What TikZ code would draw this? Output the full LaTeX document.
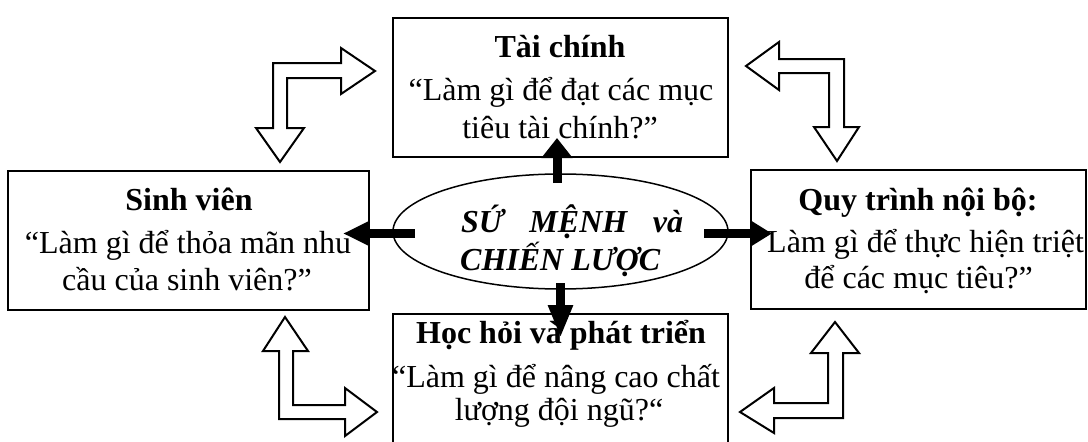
\documentclass[tikz,border=0pt]{standalone}
\usepackage{fontspec}
\setmainfont{Liberation Serif}
\usetikzlibrary{arrows.meta,shapes.geometric}
\begin{document}
\begin{tikzpicture}[x=1pt,y=-1pt,
  box/.style={draw, line width=2pt, inner sep=0pt},
  txt/.style={font=\fontsize{32}{37}\selectfont, inner sep=0pt, anchor=base},
  head/.style={font=\fontsize{32}{37}\selectfont\bfseries, inner sep=0pt, anchor=base},
  etxt/.style={font=\fontsize{32}{37}\selectfont\bfseries\itshape, inner sep=0pt, anchor=base west},
  blk/.style={line width=9pt},
  hollow/.style={draw, line width=2pt, fill=white, line join=miter}]
\useasboundingbox (0,0) rectangle (1088,442);

% boxes
\node[box, minimum width=335pt, minimum height=139pt] (fin) at (560.5,87.5) {};
\node[box, minimum width=361pt, minimum height=139pt] (stu) at (188.5,240.5) {};
\node[box, minimum width=335pt, minimum height=139pt] (pro) at (918.5,239.5) {};
\node[box, minimum width=335pt, minimum height=146pt] (lrn) at (560.5,387) {};
\node[draw, ellipse, line width=1.5pt, inner sep=0pt, minimum width=335pt, minimum height=115pt] (mis) at (560.5,231.5) {};

% texts
\node[head] (finH) at (560,57) {Tài chính};
\node[txt] (fin1) at (561,100) {“Làm gì để đạt các mục};
\node[txt] (fin2) at (560,138) {tiêu tài chính?”};

\node[head] (stuH) at (189,210) {Sinh viên};
\node[txt] (stu1) at (188,253) {“Làm gì để thỏa mãn nhu};
\node[txt] (stu2) at (187,290) {cầu của sinh viên?”};

\node[head] (proH) at (918,210) {Quy trình nội bộ:};
\node[txt, anchor=base west] (pro1) at (767,252) {Làm gì để thực hiện triệt};
\node[txt] (pro2) at (918.5,288) {để các mục tiêu?”};

\node[head] (lrnH) at (561,343) {Học hỏi và phát triển};
\node[txt] (lrn1) at (556,387) {“Làm gì để nâng cao chất};
\node[txt] (lrn2) at (559,420) {lượng đội ngũ?“};

\node[etxt] (misA) at (461,232) {\makebox[222pt][s]{SỨ MỆNH và}};
\node[etxt] (misB) at (460,270) {CHIẾN LƯỢC};

% hollow bent double arrows
\draw[hollow] (375,71) -- (341,48) -- (341,63) -- (273,63) -- (273,128) -- (256,128)
  -- (280,162) -- (304,128) -- (287,128) -- (287,78) -- (341,78) -- (341,94) -- cycle;
\draw[hollow] (746,66) -- (779,42) -- (779,59) -- (844,59) -- (844,127) -- (859,127)
  -- (837,161) -- (814,127) -- (829,127) -- (829,73) -- (779,73) -- (779,90) -- cycle;
\draw[hollow] (285,317) -- (308,351) -- (293,351) -- (293,405) -- (345,405) -- (345,388)
  -- (377,412) -- (345,436) -- (345,419) -- (279,419) -- (279,351) -- (263,351) -- cycle;
\draw[hollow] (835,322) -- (859,353) -- (843,353) -- (843,418) -- (774,418) -- (774,433)
  -- (740,412) -- (774,388) -- (774,403) -- (828,403) -- (828,353) -- (811,353) -- cycle;

% black arrows from the centre
\coordinate (upS) at (557,183);   \coordinate (upE) at (557,138);
\coordinate (dnS) at (560.5,283); \coordinate (dnE) at (560.5,338);
\coordinate (lfS) at (415,233.5); \coordinate (lfE) at (343,233.5);
\coordinate (rtS) at (704,233.5); \coordinate (rtE) at (772,233.5);
\draw[blk, -{Triangle[length=20pt,width=30pt]}] (upS) -- (upE);
\draw[blk, -{Triangle[length=33pt,width=23pt]}] (dnS) -- (dnE);
\draw[blk, -{Triangle[length=25pt,width=22pt]}] (lfS) -- (lfE);
\draw[blk, -{Triangle[length=20pt,width=23pt]}] (rtS) -- (rtE);
\end{tikzpicture}
\end{document}
